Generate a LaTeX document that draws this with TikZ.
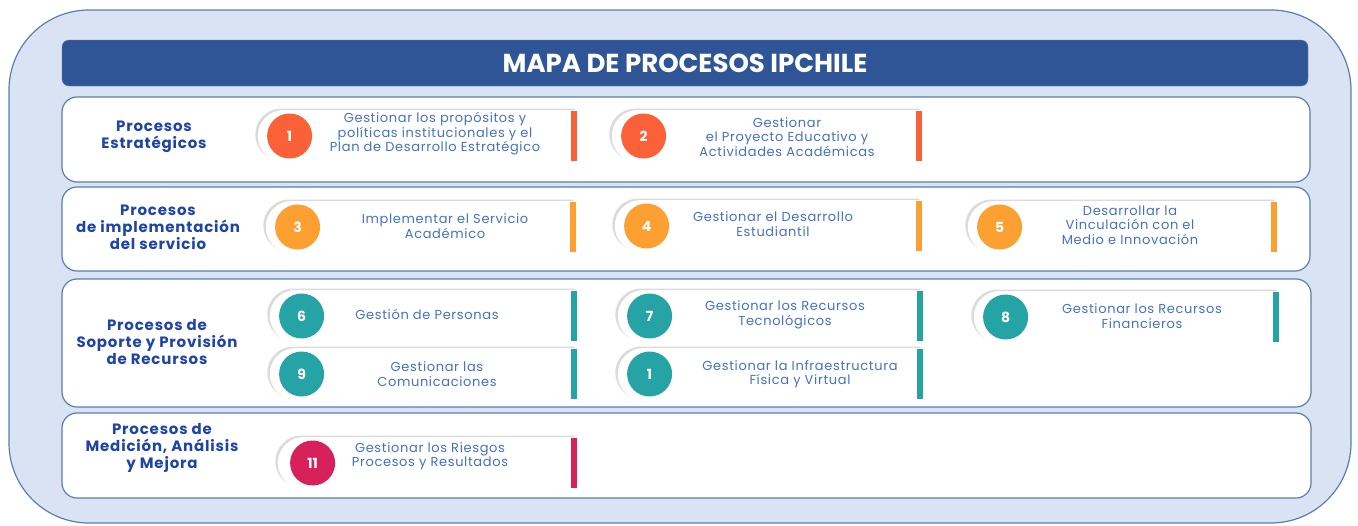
\documentclass[tikz,border=0pt]{standalone}
\usepackage{fontspec}
\setmainfont{Poppins}
\newfontfamily\widefont[LetterSpace=5]{Poppins}
\newfontfamily\labelfont[LetterSpace=5.5]{Poppins}
\usepackage{tikz}
\usetikzlibrary{shapes.misc, shadows, positioning}
\definecolor{frame}{HTML}{5A7EAE}
\definecolor{backblue}{HTML}{DAE3F3}
\definecolor{titleblue}{HTML}{2F5597}
\definecolor{labelblue}{HTML}{1F44A8}
\definecolor{textblue}{HTML}{4472C4}
\definecolor{redproc}{HTML}{FB6138}
\definecolor{orangeproc}{HTML}{FCA032}
\definecolor{tealproc}{HTML}{25A3A5}
\definecolor{crimsonproc}{HTML}{D6215A}
\tikzset{
    row/.style={draw=frame, line width=1.2pt, fill=white, rounded corners=15},
    rowlabel/.style={text=labelblue, font=\labelfont\bfseries\fontsize{15}{17}\selectfont, align=center},
    pill/.style={rounded rectangle, rounded rectangle right arc=none,
        minimum height=52, inner sep=0pt, anchor=east, fill=white,
        drop shadow={shadow xshift=-2.5pt, shadow yshift=1.5pt, opacity=0.28}},
    bar/.style={minimum width=6, minimum height=50, inner sep=0pt, anchor=east},
    num/.style={circle, minimum size=45, inner sep=0pt, text=white,
        font=\bfseries\fontsize{14}{14}\selectfont},
    proc/.style={text=textblue, font=\widefont\fontsize{13}{14.5}\selectfont, align=center}
}

\begin{document}
\begin{tikzpicture}[x=1pt, y=-1pt]
	\useasboundingbox (0,0) rectangle (1358,525);
	% marco exterior
	\draw[frame, line width=1.2pt, fill=backblue, rounded corners=80] (9,10) rectangle (1351,523);
	\node[fill=titleblue, draw=frame, rounded corners=7, minimum width=1246, minimum height=46,
	    text=white, font=\bfseries\fontsize{26}{26}\selectfont] (titulo) at (685,63) {MAPA DE PROCESOS IPCHILE};
	% filas
	\draw[row] (62,97) rectangle (1310,182);
	\draw[row] (62,187) rectangle (1310,271);
	\draw[row] (62,279) rectangle (1311,407);
	\draw[row] (62,413) rectangle (1311,498);
	\node[rowlabel] (estr) at (154,137) {Procesos\\Estratégicos};
	\node[rowlabel] (impl) at (158,227) {Procesos\\de implementación\\del servicio};
	\node[rowlabel] (sop) at (157,342) {Procesos de\\Soporte y Provisión\\de Recursos};
	\node[rowlabel] (med) at (162,448) {Procesos de\\Medición, Análisis\\y Mejora};

	% procesos estrategicos
	\node[pill, minimum width=319] (g1) at (577,136) {};
	\node[bar, fill=redproc] (b1) at (g1.east) {};
	\node[num, fill=redproc] (n1) at ([xshift=32]g1.west) {1};
	\node[proc] (t1) at (435,134) {Gestionar los propósitos y\\políticas institucionales y el\\Plan de Desarrollo Estratégico};
	\node[pill, minimum width=310] (g2) at (922,136) {};
	\node[bar, fill=redproc] (b2) at (g2.east) {};
	\node[num, fill=redproc] (n2) at ([xshift=32]g2.west) {2};
	\node[proc] (t2) at (787,137) {Gestionar\\el Proyecto Educativo y\\Actividades Académicas};

	% procesos de implementacion
	\node[pill, minimum width=310] (g3) at (576,227) {};
	\node[bar, fill=orangeproc] (b3) at (g3.east) {};
	\node[num, fill=orangeproc] (n3) at ([xshift=32]g3.west) {3};
	\node[proc] (t3) at (445,226) {Implementar el Servicio\\Académico};
	\node[pill, minimum width=307] (g4) at (922,226) {};
	\node[bar, fill=orangeproc] (b4) at (g4.east) {};
	\node[num, fill=orangeproc] (n4) at ([xshift=32]g4.west) {4};
	\node[proc] (t4) at (773,224) {Gestionar el Desarrollo\\Estudiantil};
	\node[pill, minimum width=309] (g5) at (1277,227) {};
	\node[bar, fill=orangeproc] (b5) at (g5.east) {};
	\node[num, fill=orangeproc] (n5) at ([xshift=32]g5.west) {5};
	\node[proc] (t5) at (1130,225) {Desarrollar la\\Vinculación con el\\Medio e Innovación};

	% procesos de soporte
	\node[pill, minimum width=307] (g6) at (577,316) {};
	\node[bar, fill=tealproc] (b6) at (g6.east) {};
	\node[num, fill=tealproc] (n6) at ([xshift=32]g6.west) {6};
	\node[proc] (t6) at (427,314) {Gestión de Personas};
	\node[pill, minimum width=305] (g7) at (923,316) {};
	\node[bar, fill=tealproc] (b7) at (g7.east) {};
	\node[num, fill=tealproc] (n7) at ([xshift=32]g7.west) {7};
	\node[proc] (t7) at (785,315) {Gestionar los Recursos\\Tecnológicos};
	\node[pill, minimum width=305] (g8) at (1279,317) {};
	\node[bar, fill=tealproc] (b8) at (g8.east) {};
	\node[num, fill=tealproc] (n8) at ([xshift=32]g8.west) {8};
	\node[proc] (t8) at (1142,316) {Gestionar los Recursos\\Financieros};
	\node[pill, minimum width=307] (g9) at (577,374) {};
	\node[bar, fill=tealproc] (b9) at (g9.east) {};
	\node[num, fill=tealproc] (n9) at ([xshift=32]g9.west) {9};
	\node[proc] (t9) at (437,374) {Gestionar las\\Comunicaciones};
	\node[pill, minimum width=305] (g10) at (923,374) {};
	\node[bar, fill=tealproc] (b10) at (g10.east) {};
	\node[num, fill=tealproc] (n10) at ([xshift=32]g10.west) {1};
	\node[proc] (t10) at (800,374) {Gestionar la Infraestructura\\Física y Virtual};

	% medicion
	\node[pill, minimum width=299] (g11) at (577,463) {};
	\node[bar, fill=crimsonproc] (b11) at (g11.east) {};
	\node[num, fill=crimsonproc] (n11) at ([xshift=35]g11.west) {11};
	\node[proc] (t11) at (430,456) {Gestionar los Riesgos\\Procesos y Resultados};
\end{tikzpicture}
\end{document}
